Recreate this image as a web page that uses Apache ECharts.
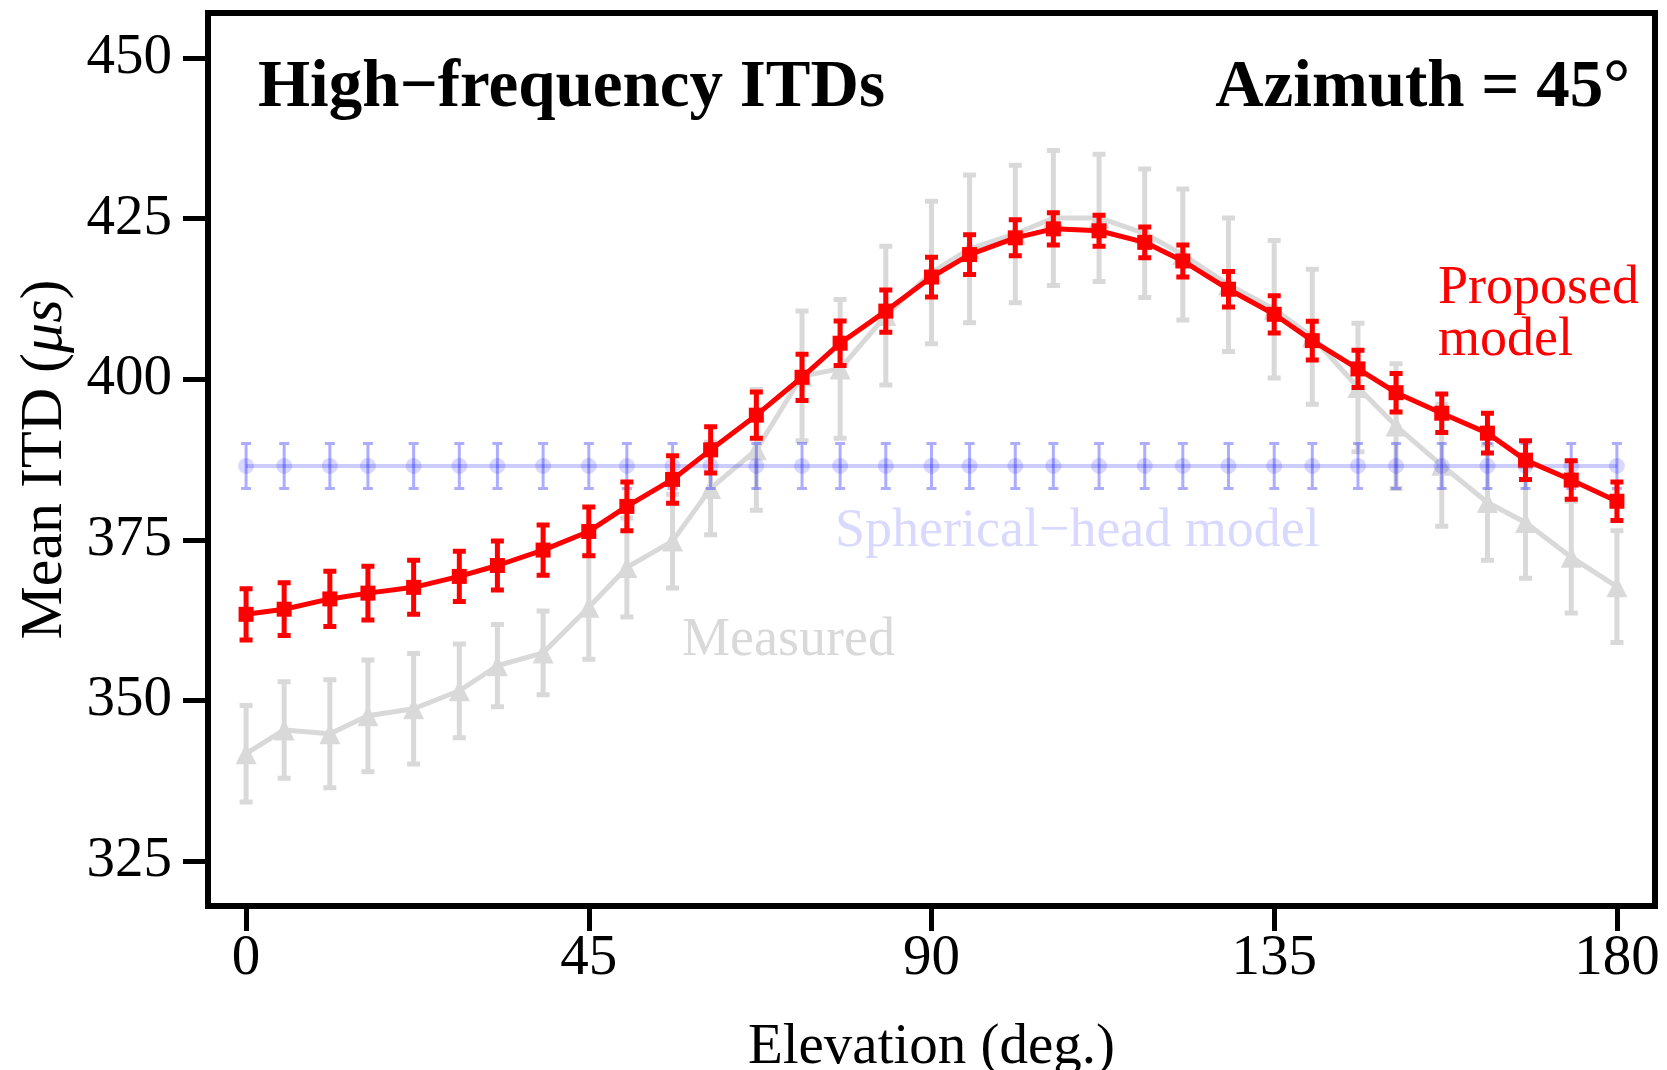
<!DOCTYPE html>
<html><head><meta charset="utf-8">
<script src="https://cdn.jsdelivr.net/npm/echarts@6/dist/echarts.min.js"></script>
<style>html,body{margin:0;padding:0;background:#fff}#c{width:1667px;height:1070px}</style>
</head><body><div id="c"></div>
<script>
const elevations = [0,5,11,16,22,28,33,39,45,50,56,61,67,73,78,84,90,95,101,106,112,118,123,129,135,140,146,151,157,163,168,174,180];
const measuredMean = [341.7,345.4,344.8,347.6,348.7,351.5,355.4,357.4,364.5,370.7,374.8,383.0,389.0,400.5,401.6,409.9,416.6,420.3,422.6,425.1,425.1,422.7,419.4,414.7,410.9,406.6,398.7,392.7,386.6,380.8,377.7,372.3,367.7];
const measuredErr = [7.5,7.5,8.4,8.7,8.6,7.3,6.4,6.5,8.1,7.7,7.3,7.2,9.4,10.1,10.8,10.8,11.1,11.5,10.7,10.5,9.9,10.0,10.2,10.4,10.7,10.5,10.0,9.7,9.5,9.0,8.7,8.7,8.7];
const proposedMean = [363.4,364.2,365.8,366.7,367.6,369.3,371.0,373.4,376.3,380.2,384.4,389.0,394.4,400.3,405.6,410.6,415.9,419.4,422.0,423.4,423.1,421.3,418.4,414.0,410.1,406.0,401.6,397.9,394.7,391.6,387.4,384.3,381.0];
const proposedErr = [4.0,4.1,4.3,4.2,4.2,3.9,3.8,3.9,3.8,3.8,3.7,3.6,3.6,3.6,3.45,3.3,3.1,3.1,2.8,2.5,2.4,2.4,2.5,2.75,2.9,3.0,2.9,3.0,3.0,3.1,3.0,3.0,3.0];
const sphericalMean = [386.5,386.5,386.5,386.5,386.5,386.5,386.5,386.5,386.5,386.5,386.5,386.5,386.5,386.5,386.5,386.5,386.5,386.5,386.5,386.5,386.5,386.5,386.5,386.5,386.5,386.5,386.5,386.5,386.5,386.5,386.5,386.5,386.5];
const sphericalErr = [3.5,3.5,3.5,3.5,3.5,3.5,3.5,3.5,3.5,3.5,3.5,3.5,3.5,3.5,3.5,3.5,3.5,3.5,3.5,3.5,3.5,3.5,3.5,3.5,3.5,3.5,3.5,3.5,3.5,3.5,3.5,3.5,3.5];
const xTicks = [0,45,90,135,180];
const yTicks = [325,350,375,400,425,450];

const FONT = '"Liberation Serif","Times New Roman",serif';
const GRAY = '#d9d9d9';
const RED = '#ff0000';

function errorSeries(mean, err, color, lineW, capW, z) {
  return {
    type: 'custom', z: z, silent: true, animation: false,
    data: elevations.map((x, i) => [x, mean[i] - err[i], mean[i] + err[i]]),
    encode: { x: 0, y: [1, 2] },
    renderItem: function (params, api) {
      const lo = api.coord([api.value(0), api.value(1)]);
      const hi = api.coord([api.value(0), api.value(2)]);
      const h = capW / 2;
      const x = lo[0];
      const d = 'M' + (x - h) + ' ' + lo[1] + 'L' + (x + h) + ' ' + lo[1] +
                'M' + x + ' ' + lo[1] + 'L' + x + ' ' + hi[1] +
                'M' + (x - h) + ' ' + hi[1] + 'L' + (x + h) + ' ' + hi[1];
      return { type: 'path', shape: { pathData: d }, style: { stroke: color, lineWidth: lineW, fill: null } };
    }
  };
}

const chart = echarts.init(document.getElementById('c'), null, { renderer: 'canvas' });
chart.setOption({
  animation: false,
  backgroundColor: '#fff',
  grid: { left: 208, right: 12, top: 13, bottom: 164, show: true, borderColor: '#000', borderWidth: 6, backgroundColor: 'transparent', containLabel: false, outerBoundsMode: 'none' },
  xAxis: {
    type: 'value', min: -5, max: 185,
    axisLine: { show: false, onZero: false },
    splitLine: { show: false },
    axisTick: { show: true, customValues: xTicks, length: 25, lineStyle: { color: '#000', width: 5 } },
    axisLabel: { customValues: xTicks, fontSize: 57, fontFamily: FONT, color: '#000', margin: 25 },
    name: 'Elevation (deg.)', nameLocation: 'middle', nameGap: 114,
    nameTextStyle: { fontSize: 57, fontFamily: FONT, color: '#000' }
  },
  yAxis: {
    type: 'value', min: 318, max: 457,
    axisLine: { show: false, onZero: false },
    splitLine: { show: false },
    axisTick: { show: true, customValues: yTicks, length: 25, lineStyle: { color: '#000', width: 5 } },
    axisLabel: { customValues: yTicks, fontSize: 57, fontFamily: FONT, color: '#000', margin: 36 },
    name: '{a|Mean ITD (}{b|μs}{a|)}', nameLocation: 'middle', nameRotate: 90, nameGap: 128,
    nameTextStyle: {
      fontSize: 60, fontFamily: FONT, color: '#000',
      rich: { a: { fontSize: 60, fontFamily: FONT, color: '#000' }, b: { fontSize: 60, fontFamily: FONT, fontStyle: 'italic', color: '#000' } }
    }
  },
  series: [
    errorSeries(measuredMean, measuredErr, GRAY, 5, 13, 1),
    {
      type: 'line', z: 2, silent: true,
      data: elevations.map((x, i) => [x, measuredMean[i]]),
      symbol: 'triangle', symbolSize: 21,
      lineStyle: { color: GRAY, width: 5 },
      itemStyle: { color: GRAY }
    },
    errorSeries(sphericalMean, sphericalErr, 'rgba(0,0,255,0.32)', 3, 10, 3),
    {
      type: 'line', z: 3, silent: true,
      data: elevations.map((x, i) => [x, sphericalMean[i]]),
      symbol: 'circle', symbolSize: 16,
      lineStyle: { color: 'rgba(0,0,255,0.2)', width: 4 },
      itemStyle: { color: 'rgba(0,0,255,0.15)' }
    },
    errorSeries(proposedMean, proposedErr, RED, 5, 13, 4),
    {
      type: 'line', z: 5, silent: true,
      data: elevations.map((x, i) => [x, proposedMean[i]]),
      symbol: 'rect', symbolSize: 15,
      lineStyle: { color: RED, width: 5 },
      itemStyle: { color: RED }
    }
  ],
  graphic: [
    { type: 'text', left: 258, top: 55, style: { text: 'High\u2212frequency ITDs', fontSize: 67, fontWeight: 'bold', fontFamily: FONT, fill: '#000' } },
    { type: 'text', right: 37, top: 55, style: { text: 'Azimuth = 45°', fontSize: 67, fontWeight: 'bold', fontFamily: FONT, fill: '#000' } },
    { type: 'text', left: 835, top: 505, style: { text: 'Spherical\u2212head model', fontSize: 54, fontFamily: FONT, fill: '#d9d9ff' } },
    { type: 'text', left: 682, top: 614, style: { text: 'Measured', fontSize: 54, fontFamily: FONT, fill: GRAY } },
    { type: 'text', left: 1438, top: 262, style: { text: 'Proposed\nmodel', fontSize: 54, lineHeight: 52, fontFamily: FONT, fill: RED } }
  ]
});
</script>
</body></html>
